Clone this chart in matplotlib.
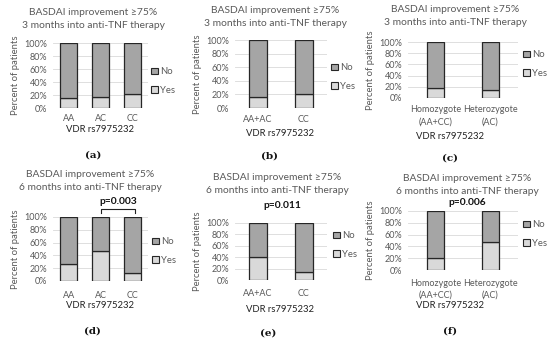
import matplotlib
matplotlib.use('Agg')
import matplotlib.pyplot as plt
from matplotlib.patches import Patch
from matplotlib.ticker import PercentFormatter

plt.rcParams['font.family'] = ['Lato', 'DejaVu Sans']

W, H = 550, 338

# data (percent of patients)
genotypes = ['AA', 'AC', 'CC']
dominant = ['AA+AC', 'CC']
zygosity = ['Homozygote\n(AA+CC)', 'Heterozygote\n(AC)']

yes_a = [15, 16.5, 21]
no_a = [85, 83.5, 79]
yes_b = [16, 21]
no_b = [84, 79]
yes_c = [17.5, 15]
no_c = [82.5, 85]
yes_d = [27, 47, 13]
no_d = [73, 53, 87]
yes_e = [40, 14]
no_e = [60, 86]
yes_f = [20, 48]
no_f = [80, 52]

C_NO = '#a5a5a5'
C_YES = '#d9d9d9'
C_EDGE = '#262626'
C_TXT = '#595959'

fig = plt.figure(figsize=(W / 100, H / 100), dpi=100)


def px(x, y):
    return x / W, 1 - y / H


def panel(box, cats, yes, no, width, title_xy, title, xlab_xy, tick_y,
          label_xy, letter, leg_xy, pval=None):
    x0, x1, ytop, ybot = box
    ax = fig.add_axes([x0 / W, 1 - ybot / H, (x1 - x0) / W, (ybot - ytop) / H])
    xs = range(len(cats))
    ax.bar(xs, yes, width, color=C_YES, edgecolor=C_EDGE, linewidth=0.9, zorder=3)
    ax.bar(xs, no, width, bottom=yes, color=C_NO, edgecolor=C_EDGE, linewidth=0.9, zorder=3)
    ax.set_xlim(-0.5, len(cats) - 0.5)
    ax.set_ylim(0, 100)
    ax.set_yticks(range(0, 101, 20))
    ax.yaxis.set_major_formatter(PercentFormatter(decimals=0))
    ax.grid(axis='y', color='#d9d9d9', linewidth=0.6, zorder=0)
    for s in ax.spines.values():
        s.set_visible(False)
    ax.tick_params(length=0, labelsize=6.5, colors=C_TXT, pad=4)
    ax.set_xticks(list(xs))
    ax.set_xticklabels(cats, linespacing=1.45)
    # tick_y: centre of first line of the tick label, in pixels
    ax.tick_params(axis='x', pad=max(0, (tick_y - 4.5 - ybot) * 0.72))
    ax.set_ylabel('Percent of patients', fontsize=6.8, color=C_TXT, labelpad=3)

    fig.text(*px(*title_xy), title, ha='center', va='center', fontsize=7.4,
             color=C_TXT, linespacing=1.45)
    fig.text(*px(*xlab_xy), 'VDR rs7975232', ha='center', va='center',
             fontsize=6.8, color='#222222')
    fig.text(*px(*label_xy), letter, ha='center', va='center', fontsize=7.5,
             fontweight='bold', family='DejaVu Serif', color='#111111')

    handles = [Patch(facecolor=C_NO, edgecolor=C_EDGE, linewidth=0.8),
               Patch(facecolor=C_YES, edgecolor=C_EDGE, linewidth=0.8)]
    lx, ly = px(*leg_xy)
    fig.legend(handles, ['No', 'Yes'], loc='center left', bbox_to_anchor=(lx, ly),
               frameon=False, fontsize=6.8, handlelength=0.7, handleheight=0.7,
               handletextpad=0.3, labelspacing=1.0, borderpad=0, borderaxespad=0,
               labelcolor=C_TXT)

    if pval is not None:
        text, txy = pval
        fig.text(*px(*txy), text, ha='center', va='center', fontsize=7.4,
                 fontweight='bold', color='#111111')
    return ax


t3 = 'BASDAI improvement \u226575%\n3 months into anti-TNF therapy'
t6 = 'BASDAI improvement \u226575%\n6 months into anti-TNF therapy'

panel((53, 148, 43, 108), genotypes, yes_a, no_a, 0.54, (93, 19), t3,
      (100, 130), 118, (93, 155), '(a)', (151, 81))
panel((235, 327, 40, 108), dominant, yes_b, no_b, 0.39, (275, 17), t3,
      (280, 134), 119, (269, 156), '(b)', (331, 77))
panel((408, 518, 42, 98), zygosity, yes_c, no_c, 0.31, (455, 16), t3,
      (450, 136), 110, (450, 158), '(c)', (523, 64))
ax_d = panel((53, 148, 217, 281), genotypes, yes_d, no_d, 0.54, (90, 181), t6,
             (100, 306), 295, (92, 331), '(d)', (152, 251),
             pval=('p=0.003', (118, 201)))
panel((235, 327, 223, 280), dominant, yes_e, no_e, 0.39, (277, 184), t6,
      (280, 309), 293, (268, 333), '(e)', (333, 245),
      pval=('p=0.011', (282, 206)))
panel((408, 518, 211, 270), zygosity, yes_f, no_f, 0.31, (467, 185), t6,
      (450, 306), 283, (450, 331), '(f)', (523, 234),
      pval=('p=0.006', (467, 202)))

# bracket between AC and CC in panel (d)
ax_d.plot([1.0, 1.0, 2.1, 2.1], [106, 112, 112, 106], color='#222222',
          linewidth=0.8, clip_on=False)

fig.savefig('out.png', dpi=100)
